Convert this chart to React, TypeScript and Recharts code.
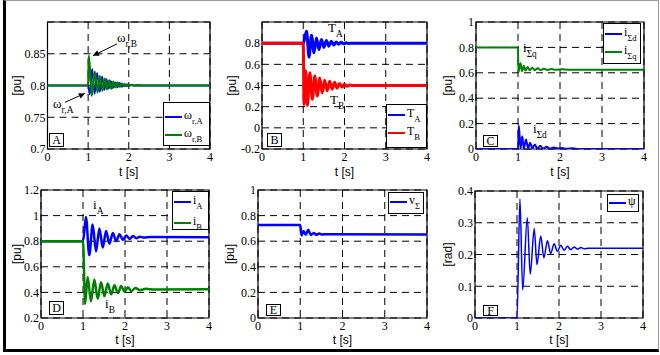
import {
  CartesianGrid,
  Line,
  LineChart,
  ReferenceArea,
  ReferenceLine,
  XAxis,
  YAxis,
} from "recharts";

// common time axis
const timeTicks = [0, 1, 2, 3, 4];

// panel A: rotor speeds
const omegaTicks = [0.7, 0.75, 0.8, 0.85];
const tOmegaA = [0, 1.0, 1.04, 1.1, 1.16, 1.22, 1.285, 1.345, 1.4, 1.45, 1.505, 1.56, 1.61, 1.665, 1.72, 1.775, 1.83, 1.89, 1.95, 2.02, 2.1, 4];
const omegaA = [0.8, 0.8, 0.786, 0.826, 0.787, 0.82, 0.79, 0.814, 0.793, 0.81, 0.795, 0.807, 0.796, 0.805, 0.797, 0.804, 0.798, 0.802, 0.799, 0.801, 0.8, 0.8];
const tOmegaB = [0, 1.0, 1.017, 1.09, 1.165, 1.23, 1.29, 1.35, 1.41, 1.465, 1.52, 1.57, 1.62, 1.67, 1.72, 1.775, 1.83, 1.89, 1.95, 2.01, 2.08, 2.15, 2.25, 2.35, 4];
const omegaB = [0.8, 0.8, 0.847, 0.784, 0.822, 0.789, 0.815, 0.792, 0.811, 0.794, 0.808, 0.795, 0.806, 0.797, 0.805, 0.798, 0.803, 0.799, 0.802, 0.7995, 0.801, 0.8, 0.8005, 0.8, 0.8];

// panel B: torques
const torqueTicks = [-0.2, 0, 0.2, 0.4, 0.6, 0.8];
const tTorqueA = [0, 1.0, 1.08, 1.14, 1.2, 1.26, 1.32, 1.38, 1.44, 1.5, 1.56, 1.62, 1.68, 1.74, 1.8, 1.86, 1.92, 1.98, 2.04, 2.1, 2.2, 4];
const torqueA = [0.8, 0.8, 0.913, 0.668, 0.875, 0.71, 0.85, 0.74, 0.835, 0.76, 0.825, 0.772, 0.818, 0.782, 0.812, 0.79, 0.808, 0.794, 0.805, 0.798, 0.8, 0.8];
const tTorqueB = [0, 1.0, 1.02, 1.06, 1.1, 1.16, 1.22, 1.28, 1.34, 1.4, 1.46, 1.52, 1.58, 1.64, 1.7, 1.76, 1.82, 1.88, 1.94, 2.0, 2.06, 2.12, 2.2, 4];
const torqueB = [0.8, 0.8, 0.22, 0.54, 0.21, 0.52, 0.27, 0.49, 0.3, 0.47, 0.33, 0.45, 0.35, 0.44, 0.365, 0.43, 0.375, 0.42, 0.385, 0.412, 0.392, 0.405, 0.4, 0.4];

// panel C: total d/q currents
const unitTicks = [0, 0.2, 0.4, 0.6, 0.8, 1];
const tIsd = [0, 1.0, 1.02, 1.06, 1.1, 1.14, 1.19, 1.24, 1.29, 1.34, 1.4, 1.46, 1.53, 1.6, 1.68, 1.76, 1.85, 1.95, 2.05, 2.15, 2.3, 2.45, 4];
const isd = [0, 0, 0.185, 0.005, 0.1, 0.005, 0.075, 0.005, 0.05, 0.005, 0.035, 0.003, 0.025, 0.003, 0.018, 0.003, 0.012, 0.003, 0.008, 0.002, 0.005, 0, 0];
const tIsq = [0, 1.0, 1.01, 1.06, 1.1, 1.14, 1.18, 1.23, 1.28, 1.34, 1.4, 1.47, 1.54, 1.62, 1.7, 1.8, 1.9, 2.05, 2.2, 4];
const isq = [0.8, 0.8, 0.605, 0.675, 0.612, 0.655, 0.618, 0.645, 0.62, 0.64, 0.621, 0.635, 0.622, 0.632, 0.623, 0.629, 0.624, 0.627, 0.625, 0.625];

// panel D: machine currents
const currentTicks = [0.2, 0.4, 0.6, 0.8, 1, 1.2];
const tIA = [0, 1.0, 1.07, 1.15, 1.23, 1.31, 1.39, 1.47, 1.55, 1.63, 1.71, 1.79, 1.87, 1.95, 2.03, 2.11, 2.19, 2.27, 2.35, 2.45, 2.6, 4];
const iA = [0.8, 0.8, 0.99, 0.69, 0.93, 0.72, 0.9, 0.75, 0.88, 0.78, 0.865, 0.8, 0.855, 0.81, 0.845, 0.818, 0.84, 0.823, 0.835, 0.828, 0.832, 0.83];
const tIB = [0, 1.0, 1.05, 1.11, 1.19, 1.27, 1.35, 1.43, 1.51, 1.59, 1.67, 1.75, 1.83, 1.91, 1.99, 2.07, 2.15, 2.25, 2.35, 2.5, 2.7, 4];
const iB = [0.8, 0.8, 0.31, 0.52, 0.33, 0.5, 0.35, 0.48, 0.37, 0.47, 0.385, 0.455, 0.395, 0.45, 0.405, 0.44, 0.41, 0.435, 0.418, 0.428, 0.422, 0.425];

// panel E: total voltage
const tVs = [0, 1.0, 1.03, 1.08, 1.13, 1.19, 1.25, 1.32, 1.38, 1.45, 1.52, 1.6, 4];
const vs = [0.727, 0.727, 0.645, 0.68, 0.65, 0.69, 0.648, 0.665, 0.65, 0.66, 0.652, 0.655, 0.652];

// panel F: angle
const angleTicks = [0, 0.1, 0.2, 0.3, 0.4];
const tPsi = [0, 1.0, 1.07, 1.135, 1.245, 1.315, 1.41, 1.475, 1.565, 1.64, 1.725, 1.8, 1.885, 1.96, 2.045, 2.12, 2.2, 2.28, 2.36, 2.44, 2.52, 2.6, 2.7, 4];
const psi = [0, 0, 0.375, 0.088, 0.316, 0.138, 0.282, 0.168, 0.258, 0.19, 0.243, 0.203, 0.234, 0.21, 0.229, 0.213, 0.226, 0.215, 0.224, 0.217, 0.222, 0.218, 0.22, 0.22];

const BLUE = "#0000ff";
const GREEN = "#008000";
const RED = "#ff0000";
const SERIF = '"Liberation Serif", "Times New Roman", serif';
const SANS = '"Liberation Sans", Arial, sans-serif';

const zip = (t: number[], v: number[]) => t.map((x, i) => ({ t: x, v: v[i] }));

type Series = { data: { t: number; v: number }[]; color: string; width: number };
type Arrow = { from: [number, number]; to: [number, number] };

function Panel(props: {
  box: [number, number, number, number];
  area: [number, number, number, number];
  yDomain: [number, number];
  yTicks: number[];
  yLabel: string;
  yLabelOffset: number;
  series: Series[];
  arrows?: Arrow[];
}) {
  const [x0, y0, x1, y1] = props.box;
  const [cl, ct, cr, cb] = props.area;
  const tickStyle = { fontFamily: SERIF, fontSize: 12, fill: "#000", style: { fontFamily: SERIF } };
  return (
    <div style={{ position: "absolute", left: cl, top: ct }}>
      <LineChart
        width={cr - cl}
        height={cb - ct}
        margin={{ top: y0 - ct, right: cr - x1, bottom: 0, left: 0 }}
      >
        <CartesianGrid stroke="#000" strokeDasharray="7 5" strokeWidth={1} />
        <XAxis
          type="number"
          dataKey="t"
          domain={[0, 4]}
          ticks={timeTicks}
          interval={0}
          height={cb - y1}
          axisLine={false}
          tickLine={false}
          tickSize={0}
          tickMargin={3}
          tick={tickStyle}
          label={{
            value: "t [s]",
            position: "insideBottom",
            offset: 4,
            style: { fontFamily: SANS, fontSize: 12, fill: "#000" },
          }}
        />
        <YAxis
          type="number"
          domain={props.yDomain}
          ticks={props.yTicks}
          interval={0}
          width={x0 - cl}
          axisLine={false}
          tickLine={false}
          tickSize={0}
          tickMargin={2}
          allowDataOverflow
          tick={tickStyle}
          label={{
            value: props.yLabel,
            angle: -90,
            position: "insideLeft",
            offset: props.yLabelOffset,
            style: { fontFamily: SANS, fontSize: 12, fill: "#000", textAnchor: "middle" },
          }}
        />
        {props.series.map((s, i) => (
          <Line
            key={i}
            data={s.data}
            dataKey="v"
            type="monotone"
            stroke={s.color}
            strokeWidth={s.width}
            dot={false}
            activeDot={false}
            isAnimationActive={false}
          />
        ))}
        {(props.arrows || []).map((a, i) => (
          <ReferenceLine
            key={"a" + i}
            segment={[
              { x: a.from[0], y: a.from[1] },
              { x: a.to[0], y: a.to[1] },
            ]}
            stroke="#000"
            strokeWidth={1}
            markerEnd="url(#arrowHead)"
          />
        ))}
        <ReferenceArea
          x1={0}
          x2={4}
          y1={props.yDomain[0]}
          y2={props.yDomain[1]}
          fill="none"
          stroke="#000"
          strokeWidth={1.2}
          fillOpacity={0}
        />
      </LineChart>
    </div>
  );
}

function Sym(props: { x: number; y: number; main: string; sub?: string; size?: number }) {
  const size = props.size ?? 13;
  return (
    <div
      style={{
        position: "absolute",
        left: props.x,
        top: props.y,
        fontFamily: SERIF,
        fontSize: size,
        lineHeight: 1,
        whiteSpace: "nowrap",
        color: "#000",
      }}
    >
      {props.main}
      {props.sub && (
        <span style={{ fontSize: size * 0.72, position: "relative", top: size * 0.4 }}>{props.sub}</span>
      )}
    </div>
  );
}

function LegendBox(props: {
  x: number;
  y: number;
  w: number;
  h: number;
  items: { color: string; main: string; sub?: string; ly: number }[];
}) {
  return (
    <>
      <div
        style={{
          position: "absolute",
          left: props.x,
          top: props.y,
          width: props.w,
          height: props.h,
          border: "1.5px solid #000",
          background: "#fff",
          boxSizing: "border-box",
        }}
      />
      {props.items.map((it, i) => (
        <div key={i}>
          <div
            style={{
              position: "absolute",
              left: props.x + 2,
              top: it.ly - 1,
              width: 17,
              height: 2,
              background: it.color,
            }}
          />
          <Sym x={props.x + 21} y={it.ly - 8} main={it.main} sub={it.sub} size={12} />
        </div>
      ))}
    </>
  );
}

function Tag(props: { x: number; y: number; w: number; h: number; label: string }) {
  return (
    <div
      style={{
        position: "absolute",
        left: props.x,
        top: props.y,
        width: props.w,
        height: props.h,
        border: "1px solid #000",
        boxSizing: "border-box",
        fontFamily: SERIF,
        fontSize: 12,
        lineHeight: props.h - 1 + "px",
        textAlign: "center",
        background: "#fff",
      }}
    >
      {props.label}
    </div>
  );
}

export default function App() {
  return (
    <div
      style={{
        position: "absolute",
        left: 0,
        top: 0,
        width: 660,
        height: 355,
        background: "#fff",
        overflow: "hidden",
      }}
    >
      <svg width={0} height={0} style={{ position: "absolute" }}>
        <defs>
          <marker
            id="arrowHead"
            viewBox="0 0 10 10"
            refX={10}
            refY={5}
            markerWidth={7}
            markerHeight={6}
            markerUnits="userSpaceOnUse"
            orient="auto"
          >
            <path d="M0,0 L10,5 L0,10 z" fill="#000" />
          </marker>
        </defs>
      </svg>

      <div
        style={{
          position: "absolute",
          left: 3,
          top: 0,
          width: 656,
          height: 352,
          borderTop: "1px solid #999",
          borderRight: "1px solid #999",
          borderLeft: "3px solid #000",
          borderBottom: "3px solid #000",
          boxSizing: "border-box",
        }}
      />

      <Panel
        box={[47.5, 22, 210, 149]}
        area={[6, 0, 215, 180]}
        yDomain={[0.7, 0.9]}
        yTicks={omegaTicks}
        yLabel="[pu]"
        yLabelOffset={11}
        series={[
          { data: zip(tOmegaA, omegaA), color: BLUE, width: 1.8 },
          { data: zip(tOmegaB, omegaB), color: GREEN, width: 2.2 },
        ]}
        arrows={[
          { from: [1.71, 0.8655], to: [1.12, 0.847] },
          { from: [0.43, 0.7735], to: [0.92, 0.7875] },
        ]}
      />
      <Panel
        box={[262, 22, 427, 149]}
        area={[224, 0, 433, 180]}
        yDomain={[-0.2, 1]}
        yTicks={torqueTicks}
        yLabel="[pu]"
        yLabelOffset={8}
        series={[
          { data: zip(tTorqueA, torqueA), color: BLUE, width: 3 },
          { data: zip(tTorqueB, torqueB), color: RED, width: 3 },
        ]}
      />
      <Panel
        box={[476, 22, 644, 149]}
        area={[442, 0, 652, 180]}
        yDomain={[0, 1]}
        yTicks={unitTicks}
        yLabel="[pu]"
        yLabelOffset={6}
        series={[
          { data: zip(tIsd, isd), color: BLUE, width: 2 },
          { data: zip(tIsq, isq), color: GREEN, width: 2 },
        ]}
      />
      <Panel
        box={[41, 190, 209, 318]}
        area={[6, 176, 215, 348]}
        yDomain={[0.2, 1.2]}
        yTicks={currentTicks}
        yLabel="[pu]"
        yLabelOffset={11}
        series={[
          { data: zip(tIA, iA), color: BLUE, width: 2.5 },
          { data: zip(tIB, iB), color: GREEN, width: 2.5 },
        ]}
      />
      <Panel
        box={[258, 190, 427, 318]}
        area={[224, 176, 433, 348]}
        yDomain={[0, 1]}
        yTicks={unitTicks}
        yLabel="[pu]"
        yLabelOffset={6}
        series={[{ data: zip(tVs, vs), color: BLUE, width: 2.5 }]}
      />
      <Panel
        box={[475, 191, 643, 318]}
        area={[442, 176, 652, 348]}
        yDomain={[0, 0.4]}
        yTicks={angleTicks}
        yLabel="[rad]"
        yLabelOffset={6}
        series={[{ data: zip(tPsi, psi), color: BLUE, width: 1.5 }]}
      />

      {/* annotations */}
      <Sym x={117} y={31} main="ω" sub="r,B" />
      <Sym x={53} y={97} main="ω" sub="r,A" />
      <Sym x={328} y={21} main="T" sub="A" />
      <Sym x={330} y={93} main="T" sub="B" />
      <Sym x={523} y={41} main="i" sub="Σq" />
      <Sym x={533} y={122} main="i" sub="Σd" />
      <Sym x={93} y={198} main="i" sub="A" />
      <Sym x={105} y={297} main="i" sub="B" />

      <LegendBox
        x={163}
        y={102}
        w={47}
        h={44}
        items={[
          { color: BLUE, main: "ω", sub: "r,A", ly: 117 },
          { color: GREEN, main: "ω", sub: "r,B", ly: 135 },
        ]}
      />
      <LegendBox
        x={386}
        y={104}
        w={41}
        h={44}
        items={[
          { color: BLUE, main: "T", sub: "A", ly: 115 },
          { color: RED, main: "T", sub: "B", ly: 133 },
        ]}
      />
      <LegendBox
        x={603}
        y={23}
        w={38}
        h={41}
        items={[
          { color: BLUE, main: "i", sub: "Σd", ly: 34 },
          { color: GREEN, main: "i", sub: "Σq", ly: 52 },
        ]}
      />
      <LegendBox
        x={172}
        y={191}
        w={37}
        h={39}
        items={[
          { color: BLUE, main: "i", sub: "A", ly: 202 },
          { color: GREEN, main: "i", sub: "B", ly: 223 },
        ]}
      />
      <LegendBox
        x={388}
        y={192}
        w={36}
        h={22}
        items={[{ color: BLUE, main: "v", sub: "Σ", ly: 202 }]}
      />
      <LegendBox
        x={607}
        y={194}
        w={32}
        h={18}
        items={[{ color: BLUE, main: "ψ", ly: 203 }]}
      />

      <Tag x={49} y={133} w={15} h={14} label="A" />
      <Tag x={267} y={133} w={15} h={14} label="B" />
      <Tag x={483} y={135} w={15} h={12} label="C" />
      <Tag x={49} y={301} w={15} h={14} label="D" />
      <Tag x={266} y={304} w={15} h={12} label="E" />
      <Tag x={483} y={305} w={15} h={11} label="F" />
    </div>
  );
}
